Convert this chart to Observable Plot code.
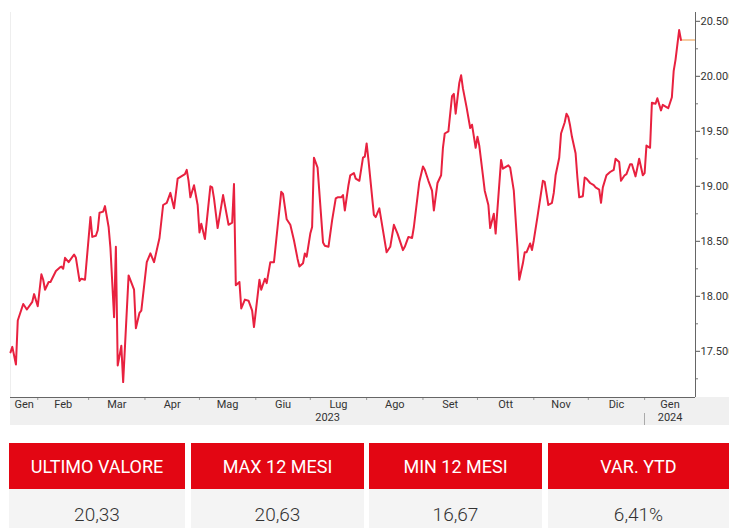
<!DOCTYPE html>
<html><head><meta charset="utf-8">
<script src="https://cdn.jsdelivr.net/npm/d3@7"></script>
<script src="https://cdn.jsdelivr.net/npm/@observablehq/plot@0.6"></script>
<style>
body{margin:0;background:#fff;width:729px;height:528px;overflow:hidden;font-family:Roboto,"Liberation Sans",sans-serif;}
#chart{height:430px;}
#stats{position:relative;height:98px;}
.box{position:absolute;top:13px;}
.hd{background:#e30613;color:#fff;height:46px;display:flex;align-items:center;justify-content:center;font-size:18px;}
.val{background:#f4f4f4;color:#333;height:50px;display:flex;align-items:center;justify-content:center;font-size:19px;font-weight:300;}
</style></head><body>
<div id="chart"></div>
<div id="stats"></div>
<script>
const dates = ["2023-01-17","2023-01-18","2023-01-20","2023-01-21","2023-01-24","2023-01-26","2023-01-29","2023-01-30","2023-02-01","2023-02-03","2023-02-04","2023-02-05","2023-02-07","2023-02-08","2023-02-11","2023-02-13","2023-02-14","2023-02-15","2023-02-16","2023-02-18","2023-02-21","2023-02-22","2023-02-24","2023-02-25","2023-02-27","2023-03-02","2023-03-03","2023-03-05","2023-03-06","2023-03-07","2023-03-09","2023-03-10","2023-03-12","2023-03-13","2023-03-15","2023-03-16","2023-03-17","2023-03-19","2023-03-20","2023-03-23","2023-03-26","2023-03-27","2023-03-29","2023-03-30","2023-04-02","2023-04-04","2023-04-06","2023-04-09","2023-04-11","2023-04-13","2023-04-15","2023-04-17","2023-04-19","2023-04-21","2023-04-23","2023-04-24","2023-04-25","2023-04-26","2023-04-28","2023-04-30","2023-05-01","2023-05-02","2023-05-04","2023-05-07","2023-05-08","2023-05-09","2023-05-11","2023-05-14","2023-05-17","2023-05-19","2023-05-20","2023-05-21","2023-05-23","2023-05-24","2023-05-26","2023-05-28","2023-05-30","2023-05-31","2023-06-03","2023-06-04","2023-06-06","2023-06-07","2023-06-09","2023-06-11","2023-06-13","2023-06-15","2023-06-16","2023-06-18","2023-06-20","2023-06-22","2023-06-24","2023-06-25","2023-06-27","2023-06-28","2023-06-29","2023-07-01","2023-07-02","2023-07-03","2023-07-05","2023-07-08","2023-07-09","2023-07-11","2023-07-13","2023-07-15","2023-07-16","2023-07-18","2023-07-19","2023-07-20","2023-07-22","2023-07-23","2023-07-25","2023-07-26","2023-07-28","2023-07-30","2023-07-31","2023-08-01","2023-08-02","2023-08-05","2023-08-06","2023-08-08","2023-08-10","2023-08-12","2023-08-14","2023-08-16","2023-08-18","2023-08-21","2023-08-22","2023-08-24","2023-08-26","2023-08-27","2023-08-30","2023-09-01","2023-09-02","2023-09-04","2023-09-06","2023-09-07","2023-09-09","2023-09-11","2023-09-12","2023-09-13","2023-09-15","2023-09-17","2023-09-18","2023-09-19","2023-09-21","2023-09-22","2023-09-23","2023-09-25","2023-09-27","2023-09-28","2023-09-30","2023-10-01","2023-10-02","2023-10-04","2023-10-05","2023-10-07","2023-10-08","2023-10-10","2023-10-11","2023-10-14","2023-10-15","2023-10-18","2023-10-19","2023-10-21","2023-10-23","2023-10-24","2023-10-26","2023-10-27","2023-10-28","2023-10-30","2023-10-31","2023-11-01","2023-11-03","2023-11-06","2023-11-07","2023-11-09","2023-11-11","2023-11-12","2023-11-13","2023-11-15","2023-11-16","2023-11-18","2023-11-19","2023-11-20","2023-11-21","2023-11-22","2023-11-24","2023-11-25","2023-11-26","2023-11-28","2023-11-29","2023-11-30","2023-12-02","2023-12-04","2023-12-05","2023-12-07","2023-12-08","2023-12-09","2023-12-11","2023-12-13","2023-12-15","2023-12-16","2023-12-18","2023-12-19","2023-12-21","2023-12-22","2023-12-24","2023-12-25","2023-12-27","2023-12-28","2023-12-29","2023-12-31","2024-01-01","2024-01-02","2024-01-04","2024-01-05","2024-01-07","2024-01-08","2024-01-10","2024-01-11","2024-01-13","2024-01-14","2024-01-16","2024-01-17","2024-01-18","2024-01-20","2024-01-21"];
const values = [17.49,17.54,17.38,17.78,17.93,17.88,17.95,18.02,17.91,18.20,18.15,18.06,18.13,18.13,18.23,18.26,18.27,18.25,18.35,18.31,18.38,18.35,18.14,18.16,18.15,18.72,18.54,18.55,18.60,18.76,18.77,18.82,18.63,18.44,17.81,18.45,17.37,17.55,17.22,18.19,18.06,17.71,17.85,17.87,18.31,18.39,18.31,18.53,18.83,18.85,18.94,18.80,19.07,19.09,19.11,19.15,19.05,18.90,19.01,18.83,18.58,18.66,18.52,19.00,18.99,18.89,18.62,18.92,18.65,18.67,19.02,18.10,18.13,17.89,17.97,17.96,17.87,17.72,18.15,18.06,18.16,18.12,18.31,18.31,18.63,18.95,18.93,18.70,18.65,18.51,18.34,18.27,18.30,18.39,18.36,18.57,18.63,19.26,19.17,18.49,18.46,18.45,18.69,18.89,18.90,18.90,18.92,18.78,19.01,19.10,19.12,19.07,19.05,19.26,19.27,19.39,19.24,18.74,18.72,18.80,18.60,18.40,18.45,18.65,18.57,18.42,18.45,18.54,18.53,18.63,19.04,19.18,19.15,19.05,18.96,18.78,19.03,19.10,19.35,19.48,19.50,19.82,19.84,19.66,19.94,20.01,19.89,19.72,19.53,19.56,19.35,19.45,19.37,19.10,18.96,18.83,18.62,18.75,18.57,19.24,19.16,19.19,19.17,18.96,18.45,18.15,18.30,18.40,18.40,18.48,18.42,18.51,18.72,19.05,19.04,18.83,18.85,18.94,19.10,19.26,19.48,19.58,19.66,19.63,19.55,19.45,19.30,19.08,18.90,18.91,19.08,19.07,19.03,19.01,18.99,18.97,18.85,18.99,19.10,19.13,19.15,19.25,19.22,19.05,19.10,19.11,19.20,19.20,19.09,19.17,19.25,19.10,19.12,19.37,19.35,19.76,19.75,19.80,19.69,19.74,19.72,19.71,19.81,20.05,20.15,20.42,20.33];
const monthStarts = ["2023-01-01","2023-02-01","2023-03-01","2023-04-01","2023-05-01","2023-06-01","2023-07-01","2023-08-01","2023-09-01","2023-10-01","2023-11-01","2023-12-01","2024-01-01","2024-02-01"];
const monthLabels = ["Gen","Feb","Mar","Apr","Mag","Giu","Lug","Ago","Set","Ott","Nov","Dic","Gen"];
const yearStarts = ["2023-01-01","2024-01-01","2025-01-01"];
const yearLabels = ["2023","2024"];
const yTicks = [17.5,18,18.5,19,19.5,20,20.5];
const yMinorTicks = [17.25,17.75,18.25,18.75,19.25,19.75,20.25];
const xDomain = ["2023-01-17","2024-01-29"];
const yDomain = [17.08,20.58];
const statLabels = ["ULTIMO VALORE","MAX 12 MESI","MIN 12 MESI","VAR. YTD"];
const statValues = ["20,33","20,63","16,67","6,41%"];

const parse = s => new Date(s + "T00:00:00Z");
const data = dates.map((d,i) => ({date: parse(d), value: values[i]}));
const x0 = parse(xDomain[0]), x1 = parse(xDomain[1]);
const clampD = d => new Date(Math.min(Math.max(+d, +x0), +x1));
const ms = monthStarts.map(parse);
const monthMids = monthLabels.map((label,i) => ({label, date: new Date((+clampD(ms[i]) + +clampD(ms[i+1]))/2)}));
const tickDates = ms.filter(d => d > x0 && d < x1);
const ys = yearStarts.map(parse);
const yearMids = yearLabels.map((label,i) => ({label, date: new Date((+clampD(ys[i]) + +clampD(ys[i+1]))/2)}));
const yearSeps = ys.filter(d => d > x0 && d < x1);
const last = data[data.length-1];

function band(index, scales, vals, dim) {
  const g = d3.create("svg:g");
  const yb = dim.height - dim.marginBottom;
  g.append("rect").attr("x", dim.marginLeft).attr("y", yb).attr("width", dim.width - dim.marginLeft).attr("height", 28).attr("fill", "#f0f0f0");
  return g.node();
}
function seps(index, scales, vals, dim) {
  const g = d3.create("svg:g");
  const yb = dim.height - dim.marginBottom;
  for (const d of yearSeps) {
    const x = Math.round(scales.x(d)) + 0.5;
    g.append("line").attr("x1", x).attr("x2", x).attr("y1", yb + 16).attr("y2", yb + 28).attr("stroke", "#aaa");
  }
  return g.node();
}

const chart = Plot.plot({
  width: 729, height: 430,
  marginLeft: 10, marginRight: 34, marginTop: 12, marginBottom: 33,
  style: {fontFamily: "Roboto, 'Liberation Sans', sans-serif", fontSize: "11px", color: "#333", background: "transparent", overflow: "visible"},
  x: {type: "utc", domain: [x0, x1], label: null},
  y: {domain: yDomain, label: null},
  marks: [
    band,
    Plot.ruleX([x0], {stroke: "#eeeeee"}),
    Plot.axisX({ticks: tickDates, tickSize: 3, tickFormat: () => "", stroke: "#999", label: null}),
    Plot.text(monthMids, {x: "date", text: "label", frameAnchor: "bottom", dy: 10, fontSize: 11, fill: "#333"}),
    Plot.text(yearMids, {x: "date", text: "label", frameAnchor: "bottom", dy: 23, fontSize: 11, fill: "#333"}),
    seps,
    Plot.axisY({anchor: "right", ticks: yTicks, tickSize: 4, tickPadding: 1, tickFormat: d3.format(".3f"), fontSize: 11, stroke: "#555", fill: "#333", label: null}),
    Plot.axisY({anchor: "right", ticks: yMinorTicks, tickSize: 2, tickFormat: () => "", stroke: "#777", label: null}),
    Plot.ruleY([yDomain[0]], {stroke: "#666"}),
    Plot.ruleX([x1], {stroke: "#666"}),
    Plot.ruleY([last.value], {x1: () => last.date, x2: () => x1, stroke: "#f0a860", strokeWidth: 1.2}),
    Plot.line(data, {x: "date", y: "value", stroke: "#e8213f", strokeWidth: 2})
  ]
});
document.getElementById("chart").append(chart);

const lefts = [9, 191, 369, 548];
const widths = [176, 173, 173, 181];
const stats = d3.select("#stats");
statLabels.forEach((lab, i) => {
  const b = stats.append("div").attr("class", "box").style("left", lefts[i] + "px").style("width", widths[i] + "px");
  b.append("div").attr("class", "hd").text(lab);
  b.append("div").attr("class", "val").text(statValues[i]);
});
</script>
</body></html>
